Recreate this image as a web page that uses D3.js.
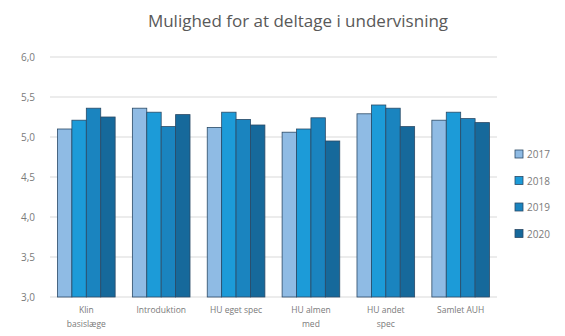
<!DOCTYPE html>
<html>
<head>
<meta charset="utf-8">
<script src="https://cdn.jsdelivr.net/npm/d3@7"></script>
<style>
  body { margin: 0; background: #fff; }
  text { font-family: "Open Sans", "Noto Sans", sans-serif; }
</style>
</head>
<body>
<svg width="565" height="336"></svg>
<script>
// Data
var categories = [["Klin", "basislæge"], ["Introduktion"], ["HU eget spec"], ["HU almen", "med"], ["HU andet", "spec"], ["Samlet AUH"]];
var years = ["2017", "2018", "2019", "2020"];
var v2017 = [5.10, 5.36, 5.12, 5.06, 5.29, 5.21];
var v2018 = [5.21, 5.31, 5.31, 5.10, 5.40, 5.31];
var v2019 = [5.36, 5.13, 5.22, 5.24, 5.36, 5.23];
var v2020 = [5.25, 5.28, 5.15, 4.95, 5.13, 5.18];
var yTicks = [3.0, 3.5, 4.0, 4.5, 5.0, 5.5, 6.0];
var colors = ["#8fbbe4", "#1c9bd8", "#1a84bf", "#16699b"];

var series = [v2017, v2018, v2019, v2020];

var svg = d3.select("svg");
var margin = {left: 50, right: 68, top: 57, bottom: 39};
var width = 565 - margin.left - margin.right,
    height = 336 - margin.top - margin.bottom;

var g = svg.append("g").attr("transform", "translate(" + margin.left + "," + margin.top + ")");

var x0 = d3.scaleBand().domain(d3.range(categories.length)).range([0, width]).paddingInner(0.23).paddingOuter(0.1);
var x1 = d3.scaleBand().domain(d3.range(years.length)).range([0, x0.bandwidth()]);
var y = d3.scaleLinear().domain([3, 6]).range([height, 0]);

// title
svg.append("text")
    .attr("x", 298).attr("y", 27)
    .attr("text-anchor", "middle")
    .attr("fill", "#595959")
    .style("font-size", "17px")
    .text("Mulighed for at deltage i undervisning");

// gridlines
g.selectAll(".grid")
    .data(yTicks)
    .enter().append("line")
    .attr("x1", 0).attr("x2", width)
    .attr("y1", d => y(d)).attr("y2", d => y(d))
    .attr("stroke", "#d9d9d9").attr("stroke-width", 1);

// y labels
g.selectAll(".ylab")
    .data(yTicks)
    .enter().append("text")
    .attr("x", -15).attr("y", d => y(d) + 3.5)
    .attr("text-anchor", "end")
    .attr("fill", "#7a7a7a")
    .style("font-size", "10px")
    .text(d => d.toFixed(1).replace(".", ","));

// bars
var groups = g.selectAll(".grp")
    .data(categories)
    .enter().append("g")
    .attr("transform", (d, i) => "translate(" + x0(i) + ",0)");

groups.selectAll("rect")
    .data((d, i) => series.map((s, j) => ({j: j, v: s[i]})))
    .enter().append("rect")
    .attr("x", d => x1(d.j))
    .attr("y", d => y(d.v))
    .attr("width", x1.bandwidth())
    .attr("height", d => y(3) - y(d.v))
    .attr("fill", d => colors[d.j])
    .attr("stroke", "#2b4a66")
    .attr("stroke-width", 0.8);

// x labels
groups.each(function (d, i) {
    var t = d3.select(this).append("text")
        .attr("x", x0.bandwidth() / 2)
        .attr("y", height + 16)
        .attr("text-anchor", "middle")
        .attr("fill", "#7a7a7a")
        .style("font-size", "8.5px");
    d.forEach((line, k) => {
        t.append("tspan").attr("x", x0.bandwidth() / 2).attr("dy", k ? 14 : 0).text(line);
    });
});

// legend
var legend = svg.append("g").attr("transform", "translate(515,150)");
var li = legend.selectAll("g")
    .data(years)
    .enter().append("g")
    .attr("transform", (d, i) => "translate(0," + i * 26.5 + ")");
li.append("rect")
    .attr("width", 8).attr("height", 8)
    .attr("fill", (d, i) => colors[i])
    .attr("stroke", "#2b4a66").attr("stroke-width", 0.8);
li.append("text")
    .attr("x", 12).attr("y", 8)
    .attr("fill", "#7a7a7a")
    .style("font-size", "10px")
    .text(d => d);
</script>
</body>
</html>
